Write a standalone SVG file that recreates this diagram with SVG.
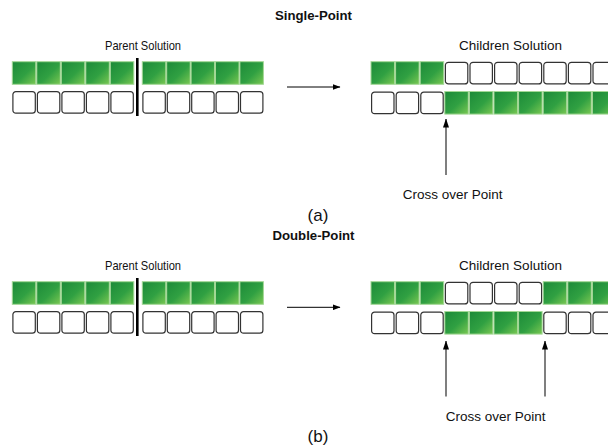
<svg xmlns="http://www.w3.org/2000/svg" xmlns:xlink="http://www.w3.org/1999/xlink" width="608" height="446" viewBox="0 0 608 446">
<style>
.t{font-family:"Liberation Sans",Arial,sans-serif;fill:#111}
.b{font-weight:bold}
.w{fill:#fff;stroke:#333;stroke-width:1.2}
.g{fill:url(#gg);stroke:#a3d895;stroke-width:1}
.div{stroke:#000;stroke-width:2.6}
.arr{stroke:#000;stroke-width:1;fill:none}
.varr{stroke:#555;stroke-width:1.5;fill:none}
</style>
<defs>
<linearGradient id="gg" x1="0" y1="0" x2="1" y2="1">
<stop offset="0" stop-color="#1c8a38"/>
<stop offset="0.55" stop-color="#30a042"/>
<stop offset="1" stop-color="#7ac852"/>
</linearGradient>
<marker id="ah" markerWidth="8" markerHeight="6" refX="7.5" refY="3" orient="auto" markerUnits="userSpaceOnUse">
<path d="M0,0 L8,3 L0,6 Z" fill="#000"/>
</marker>
<marker id="av" markerWidth="9" markerHeight="7" refX="8.5" refY="3.5" orient="auto" markerUnits="userSpaceOnUse">
<path d="M0,0.5 L9,3.5 L0,6.5 Z" fill="#000"/>
</marker>
<rect id="G" width="23.5" height="22.6" class="g"/>
<rect id="W" x="0.6" y="0.6" width="22.4" height="21.6" rx="3" class="w"/>
</defs>

<g id="titleA"><text class="t b" x="313.5" y="20" font-size="13.2" text-anchor="middle">Single-Point</text></g>
<g id="titleB"><text class="t b" x="313.5" y="240" font-size="13.2" text-anchor="middle">Double-Point</text></g>

<!-- ===== Part (a) ===== -->
<g id="parentA">
<text class="t" x="143" y="50" font-size="13" text-anchor="middle" textLength="76" lengthAdjust="spacingAndGlyphs">Parent Solution</text>
<g id="parentA-green">
<use xlink:href="#G" x="12.3" y="61.7"/><use xlink:href="#G" x="36.8" y="61.7"/><use xlink:href="#G" x="61.3" y="61.7"/><use xlink:href="#G" x="85.8" y="61.7"/><use xlink:href="#G" x="110.3" y="61.7"/>
<use xlink:href="#G" x="142.3" y="61.7"/><use xlink:href="#G" x="166.7" y="61.7"/><use xlink:href="#G" x="191.1" y="61.7"/><use xlink:href="#G" x="215.5" y="61.7"/><use xlink:href="#G" x="239.9" y="61.7"/>
</g>
<g id="parentA-white">
<use xlink:href="#W" x="12.3" y="91"/><use xlink:href="#W" x="36.8" y="91"/><use xlink:href="#W" x="61.3" y="91"/><use xlink:href="#W" x="85.8" y="91"/><use xlink:href="#W" x="110.3" y="91"/>
<use xlink:href="#W" x="142.3" y="91"/><use xlink:href="#W" x="166.7" y="91"/><use xlink:href="#W" x="191.1" y="91"/><use xlink:href="#W" x="215.5" y="91"/><use xlink:href="#W" x="239.9" y="91"/>
</g>
<line class="div" x1="137.3" y1="58" x2="137.3" y2="116"/>
</g>

<g id="childA">
<text class="t" x="510.5" y="50" font-size="13.5" text-anchor="middle">Children Solution</text>
<g id="childA-top">
<use xlink:href="#G" x="371" y="61.7"/><use xlink:href="#G" x="395.6" y="61.7"/><use xlink:href="#G" x="420.2" y="61.7"/>
<use xlink:href="#W" x="444.8" y="61.7"/><use xlink:href="#W" x="469.4" y="61.7"/><use xlink:href="#W" x="494" y="61.7"/><use xlink:href="#W" x="518.6" y="61.7"/><use xlink:href="#W" x="543.2" y="61.7"/><use xlink:href="#W" x="567.8" y="61.7"/><use xlink:href="#W" x="592.4" y="61.7"/>
</g>
<g id="childA-bottom">
<use xlink:href="#W" x="371" y="91.5"/><use xlink:href="#W" x="395.6" y="91.5"/><use xlink:href="#W" x="420.2" y="91.5"/>
<use xlink:href="#G" x="444.8" y="91.5"/><use xlink:href="#G" x="469.4" y="91.5"/><use xlink:href="#G" x="494" y="91.5"/><use xlink:href="#G" x="518.6" y="91.5"/><use xlink:href="#G" x="543.2" y="91.5"/><use xlink:href="#G" x="567.8" y="91.5"/><use xlink:href="#G" x="592.4" y="91.5"/>
</g>
</g>

<g id="crossA"><text class="t" x="452.7" y="199" font-size="13.5" text-anchor="middle">Cross over Point</text></g>
<g id="labelA"><text class="t" x="318" y="221" font-size="17" text-anchor="middle">(a)</text></g>

<!-- ===== Part (b) ===== -->
<g id="parentB">
<text class="t" x="143" y="270" font-size="13" text-anchor="middle" textLength="76" lengthAdjust="spacingAndGlyphs">Parent Solution</text>
<g id="parentB-green">
<use xlink:href="#G" x="12.3" y="281.7"/><use xlink:href="#G" x="36.8" y="281.7"/><use xlink:href="#G" x="61.3" y="281.7"/><use xlink:href="#G" x="85.8" y="281.7"/><use xlink:href="#G" x="110.3" y="281.7"/>
<use xlink:href="#G" x="142.3" y="281.7"/><use xlink:href="#G" x="166.7" y="281.7"/><use xlink:href="#G" x="191.1" y="281.7"/><use xlink:href="#G" x="215.5" y="281.7"/><use xlink:href="#G" x="239.9" y="281.7"/>
</g>
<g id="parentB-white">
<use xlink:href="#W" x="12.3" y="311"/><use xlink:href="#W" x="36.8" y="311"/><use xlink:href="#W" x="61.3" y="311"/><use xlink:href="#W" x="85.8" y="311"/><use xlink:href="#W" x="110.3" y="311"/>
<use xlink:href="#W" x="142.3" y="311"/><use xlink:href="#W" x="166.7" y="311"/><use xlink:href="#W" x="191.1" y="311"/><use xlink:href="#W" x="215.5" y="311"/><use xlink:href="#W" x="239.9" y="311"/>
</g>
<line class="div" x1="137.3" y1="278" x2="137.3" y2="336"/>
</g>

<g id="childB">
<text class="t" x="510.5" y="270" font-size="13.5" text-anchor="middle">Children Solution</text>
<g id="childB-top">
<use xlink:href="#G" x="371" y="281.7"/><use xlink:href="#G" x="395.6" y="281.7"/><use xlink:href="#G" x="420.2" y="281.7"/>
<use xlink:href="#W" x="444.8" y="281.7"/><use xlink:href="#W" x="469.4" y="281.7"/><use xlink:href="#W" x="494" y="281.7"/><use xlink:href="#W" x="518.6" y="281.7"/>
<use xlink:href="#G" x="543.2" y="281.7"/><use xlink:href="#G" x="567.8" y="281.7"/><use xlink:href="#G" x="592.4" y="281.7"/>
</g>
<g id="childB-bottom">
<use xlink:href="#W" x="371" y="311.5"/><use xlink:href="#W" x="395.6" y="311.5"/><use xlink:href="#W" x="420.2" y="311.5"/>
<use xlink:href="#G" x="444.8" y="311.5"/><use xlink:href="#G" x="469.4" y="311.5"/><use xlink:href="#G" x="494" y="311.5"/><use xlink:href="#G" x="518.6" y="311.5"/>
<use xlink:href="#W" x="543.2" y="311.5"/><use xlink:href="#W" x="567.8" y="311.5"/><use xlink:href="#W" x="592.4" y="311.5"/>
</g>
</g>

<g id="crossB"><text class="t" x="495.7" y="420.5" font-size="13.5" text-anchor="middle">Cross over Point</text></g>
<g id="labelB"><text class="t" x="318" y="442" font-size="17" text-anchor="middle">(b)</text></g>

<g id="connectors">
<line class="arr" x1="287" y1="87" x2="340" y2="87" marker-end="url(#ah)"/>
<line class="arr" x1="287" y1="307.3" x2="340" y2="307.3" marker-end="url(#ah)"/>
<line class="varr" x1="446" y1="175" x2="446" y2="119" marker-end="url(#av)"/>
<line class="varr" x1="446" y1="396.5" x2="446" y2="341" marker-end="url(#av)"/>
<line class="varr" x1="545" y1="396.5" x2="545" y2="341" marker-end="url(#av)"/>
</g>
</svg>
